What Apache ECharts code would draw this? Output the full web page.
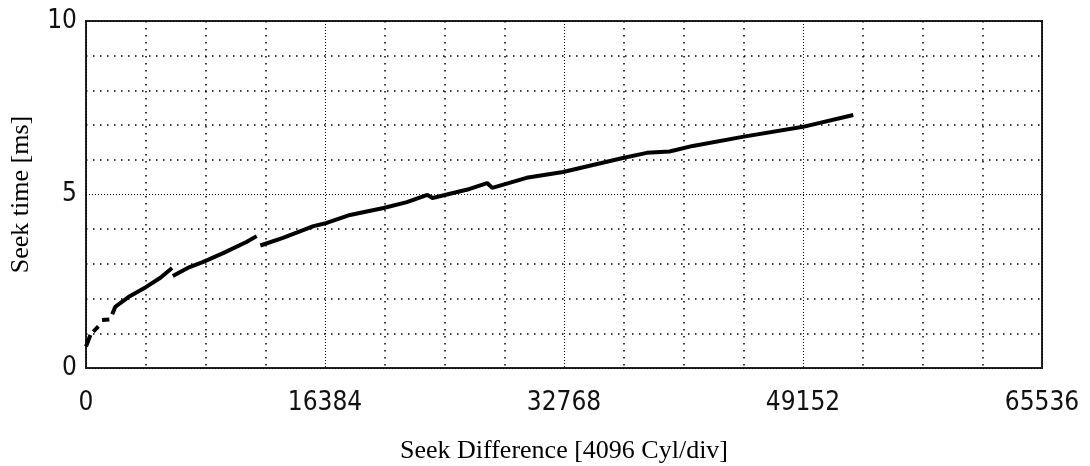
<!DOCTYPE html>
<html>
<head>
<meta charset="utf-8">
<script src="https://cdn.jsdelivr.net/npm/echarts@6/dist/echarts.min.js"></script>
<style>
  html, body { margin: 0; padding: 0; background: #fff; }
  #chart { width: 1090px; height: 466px; }
</style>
</head>
<body>
<div id="chart"></div>
<script>
// seek difference in cylinders, null = gap in the trace
const seekCyl = [0, 300, null, 500, 850, null, 1100, 1600, null, 1800, 2000, 3000, 4100, 5100, 5900, null,
  5950, 7100, 8000, 9400, 11000, 11700, null,
  11950, 13500, 15600, 16500, 18100, 20400, 22000, 23400, 23750, 26300, 27500, 27850, 30200, 32700,
  34750, 36800, 38450, 40000, 41600, 45000, 49150, 52600];
// seek time in ms
const seekMs = [0.62, 0.95, null, 1.05, 1.2, null, 1.38, 1.4, null, 1.55, 1.76, 2.07, 2.33, 2.6, 2.88, null,
  2.65, 2.91, 3.05, 3.31, 3.63, 3.8, null,
  3.53, 3.75, 4.09, 4.18, 4.41, 4.61, 4.78, 4.99, 4.9, 5.16, 5.33, 5.19, 5.48, 5.65,
  5.85, 6.05, 6.2, 6.24, 6.4, 6.66, 6.95, 7.29];

const xTicks = [0, 16384, 32768, 49152, 65536];
const yTicks = [0, 5, 10];

const numFont = "'DejaVu Sans Condensed', 'DejaVu Sans Mono', sans-serif";
const titleFont = "'Liberation Serif', 'DejaVu Serif', serif";

const chart = echarts.init(document.getElementById("chart"), null, { renderer: "canvas" });

const majorGrid = { color: "#000", width: 1, type: [1, 2] };
const minorGrid = { color: "#000", width: 1.5, type: [1.5, 5.5] };

const option = {
  animation: false,
  backgroundColor: "#fff",
  grid: {
    left: 86,
    right: 48,
    top: 21,
    bottom: 98,
    containLabel: false,
    outerBoundsMode: "none",
    show: true,
    borderColor: "#222",
    borderWidth: 2,
  },
  xAxis: {
    type: "value",
    min: xTicks[0],
    max: xTicks[xTicks.length - 1],
    interval: xTicks[1] - xTicks[0],
    name: "Seek Difference [4096 Cyl/div]",
    nameLocation: "middle",
    nameGap: 70,
    nameTextStyle: { fontFamily: titleFont, fontSize: 26, color: "#000" },
    axisLine: { show: false },
    axisTick: { show: false },
    axisLabel: {
      margin: 22,
      showMinLabel: true,
      showMaxLabel: true,
      fontFamily: numFont,
      fontSize: 26,
      color: "#111",
      formatter: (v) => String(v),
    },
    splitLine: { show: true, lineStyle: majorGrid },
    minorTick: { show: false, splitNumber: 4 },
    minorSplitLine: { show: true, lineStyle: minorGrid },
  },
  yAxis: {
    type: "value",
    min: yTicks[0],
    max: yTicks[yTicks.length - 1],
    interval: yTicks[1] - yTicks[0],
    name: "Seek time [ms]",
    nameLocation: "middle",
    nameGap: 52,
    nameRotate: 90,
    nameTextStyle: { fontFamily: titleFont, fontSize: 26, color: "#000" },
    axisLine: { show: false },
    axisTick: { show: false },
    axisLabel: {
      margin: 9,
      showMinLabel: true,
      showMaxLabel: true,
      fontFamily: numFont,
      fontSize: 26,
      color: "#111",
      formatter: (v) => String(v),
    },
    splitLine: { show: true, lineStyle: majorGrid },
    minorTick: { show: false, splitNumber: 5 },
    minorSplitLine: { show: true, lineStyle: minorGrid },
  },
  series: [
    {
      type: "line",
      data: seekCyl.map((c, i) => [c, seekMs[i]]),
      connectNulls: false,
      showSymbol: false,
      symbol: "none",
      lineStyle: { color: "#000", width: 4 },
      z: 5,
    },
  ],
};

chart.setOption(option);
</script>
</body>
</html>
